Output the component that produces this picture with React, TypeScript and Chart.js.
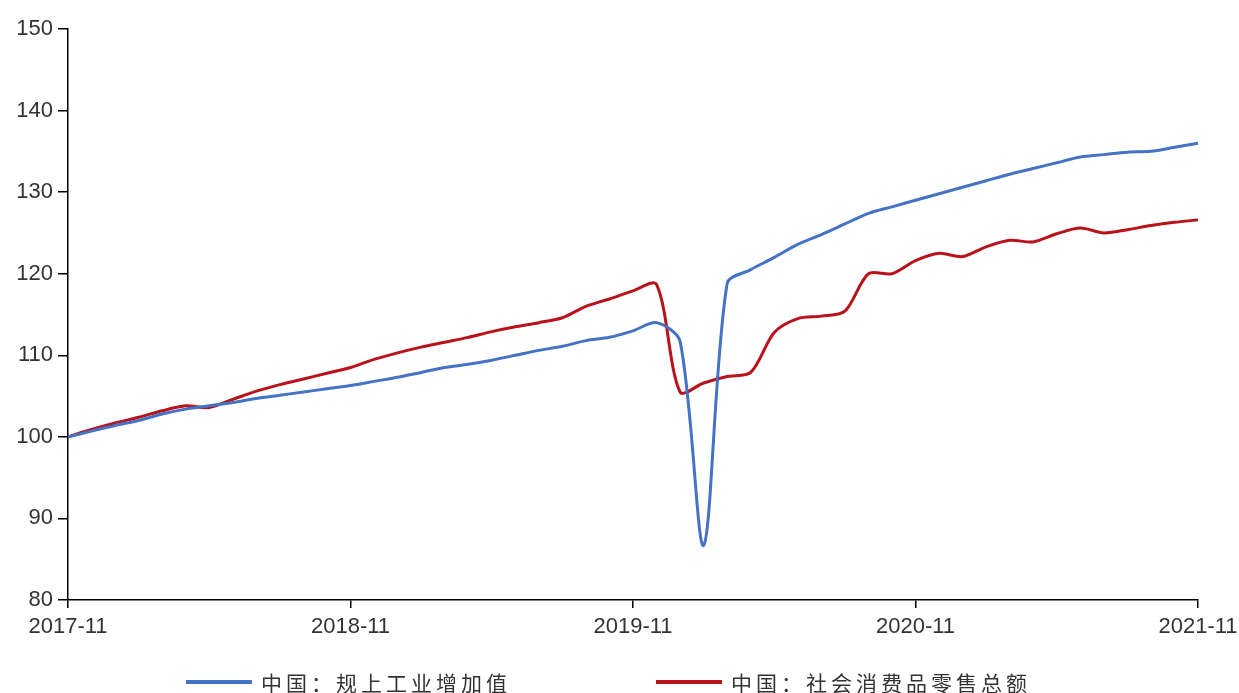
import React, { useEffect, useRef } from "react";
import { Chart, registerables } from "chart.js";

Chart.register(...registerables);

const startYear = 2017;
const startMonth = 11;
const monthCount = 49;
const categories: string[] = Array.from({ length: monthCount }, (_, i) => {
  const m0 = startMonth - 1 + i;
  const y = startYear + Math.floor(m0 / 12);
  const m = (m0 % 12) + 1;
  return `${y}-${m < 10 ? "0" + m : m}`;
});

const tickLabels = ["2017-11", "2018-11", "2019-11", "2020-11", "2021-11"];

const industrialName = "中国：规上工业增加值";
const industrialValues = [
  100, 100.7, 101.4, 102.0, 102.8, 103.4, 103.8, 104.2, 104.7, 105.1, 105.5, 105.9,
  106.3, 106.8, 107.3, 107.9, 108.5, 108.9, 109.4, 110.0, 110.6, 111.1, 111.8, 112.2,
  113.0, 114.0, 111.7, 86.7, 118.8, 120.5, 122.0, 123.6, 124.8, 126.1, 127.4, 128.2,
  129.0, 129.8, 130.6, 131.4, 132.2, 132.9, 133.6, 134.3, 134.6, 134.9, 135.0, 135.5,
  136.0,
];

const retailName = "中国：社会消费品零售总额";
const retailValues = [
  100, 100.9, 101.7, 102.4, 103.2, 103.8, 103.6, 104.6, 105.6, 106.4, 107.1, 107.8,
  108.5, 109.5, 110.3, 111.0, 111.6, 112.2, 112.9, 113.5, 114.0, 114.6, 116.0, 116.9,
  117.9, 118.7, 105.5, 106.6, 107.4, 107.9, 112.8, 114.5, 114.8, 115.4, 120.0, 120.0,
  121.6, 122.5, 122.1, 123.3, 124.1, 123.9, 124.9, 125.6, 125.0, 125.4, 125.9, 126.3,
  126.6,
];

const yMin = 80;
const yMax = 150;
const yStep = 10;

const BLUE = "#4472C4";
const RED = "#B8121B";

export default function App() {
  const canvasRef = useRef<HTMLCanvasElement | null>(null);

  useEffect(() => {
    document.body.style.margin = "0";
    const canvas = canvasRef.current;
    if (!canvas) return;
    const chart = new Chart(canvas, {
      type: "line",
      data: {
        labels: categories,
        datasets: [
          {
            label: industrialName,
            data: industrialValues,
            borderColor: BLUE,
            backgroundColor: BLUE,
            borderWidth: 3,
            pointRadius: 0,
            tension: 0.3,
          },
          {
            label: retailName,
            data: retailValues,
            borderColor: RED,
            backgroundColor: RED,
            borderWidth: 3,
            pointRadius: 0,
            tension: 0.3,
          },
        ],
      },
      options: {
        animation: false,
        responsive: false,
        maintainAspectRatio: false,
        layout: { padding: { top: 29, right: 41, left: 0, bottom: 0 } },
        plugins: {
          legend: { display: false },
          tooltip: { enabled: false },
        },
        scales: {
          x: {
            type: "category",
            offset: false,
            border: { display: true, color: "#000", width: 1.5 },
            grid: {
              display: true,
              drawOnChartArea: false,
              drawTicks: true,
              tickLength: 8,
              color: "#000",
              lineWidth: 1.5,
            },
            ticks: {
              autoSkip: false,
              maxRotation: 0,
              minRotation: 0,
              padding: 6,
              color: "#333",
              font: { family: "'Liberation Sans', Arial, sans-serif", size: 22 },
              callback: (_v: any, i: number) => {
                const lab = categories[i];
                return tickLabels.includes(lab) ? lab : null;
              },
            },
            afterFit: (scale: any) => {
              scale.height = 93;
              scale.paddingLeft = 0;
              scale.paddingRight = 0;
            },
          },
          y: {
            min: yMin,
            max: yMax,
            border: { display: true, color: "#000", width: 1.5 },
            grid: {
              display: true,
              drawOnChartArea: false,
              drawTicks: true,
              tickLength: 10,
              color: "#000",
              lineWidth: 1.5,
            },
            ticks: {
              stepSize: yStep,
              padding: 5,
              color: "#333",
              font: { family: "'Liberation Sans', Arial, sans-serif", size: 22 },
            },
            afterFit: (scale: any) => {
              scale.width = 68;
            },
          },
        },
      },
    });
    return () => chart.destroy();
  }, []);

  const legendText: React.CSSProperties = {
    position: "absolute",
    top: 669,
    fontFamily: "'Noto Sans CJK SC', sans-serif",
    fontSize: 21,
    letterSpacing: "4px",
    color: "#333",
    lineHeight: "26px",
    whiteSpace: "nowrap",
  };
  const legendLine = (color: string): React.CSSProperties => ({
    position: "absolute",
    top: 680,
    height: 4,
    width: 66,
    background: color,
  });

  return (
    <div style={{ position: "relative", width: 1239, height: 693, background: "#fff" }}>
      <canvas ref={canvasRef} width={1239} height={693} style={{ display: "block" }} />
      <div style={{ ...legendLine(BLUE), left: 186 }} />
      <div style={{ ...legendText, left: 261 }}>{industrialName}</div>
      <div style={{ ...legendLine(RED), left: 656 }} />
      <div style={{ ...legendText, left: 731 }}>{retailName}</div>
    </div>
  );
}
